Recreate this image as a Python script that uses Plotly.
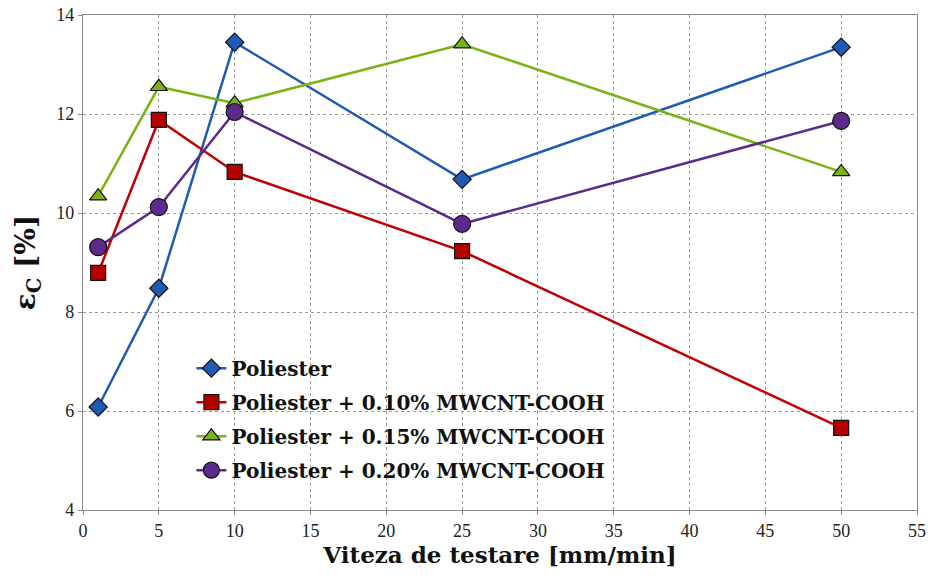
import plotly.graph_objects as go

x_vals = [1, 5, 10, 25, 50]
poliester = [6.08, 8.48, 13.45, 10.68, 13.35]
p010 = [8.79, 11.88, 10.83, 9.23, 5.66]
p015 = [10.34, 12.55, 12.22, 13.41, 10.83]
p020 = [9.31, 10.12, 12.04, 9.78, 11.86]

names = ["Poliester", "Poliester + 0.10% MWCNT-COOH",
         "Poliester + 0.15% MWCNT-COOH", "Poliester + 0.20% MWCNT-COOH"]
series = [poliester, p010, p015, p020]
line_colors = ["#1F5BB5", "#C00000", "#7AB317", "#5B2A8C"]
marker_colors = ["#1F5BB5", "#B50000", "#7AB317", "#5B2A8C"]
symbols = ["diamond", "square", "triangle-up", "circle"]
sizes = [14, 15, 15, 17]

fig = go.Figure()
for i, (n, s, lc, mc, sym, sz) in enumerate(zip(names, series, line_colors, marker_colors, symbols, sizes)):
    fig.add_trace(go.Scatter(
        x=x_vals, y=s, name=n, mode="lines+markers", legendgroup=f"g{i}",
        line=dict(color=lc, width=2.5),
        marker=dict(symbol=sym, size=sz, color=mc, line=dict(color="#111111", width=1.2)),
    ))

serif = "Liberation Serif"
bold_serif = "DejaVu Serif"
fig.update_layout(
    width=928, height=587,
    margin=dict(l=83, r=11, t=15, b=77, autoexpand=False),
    paper_bgcolor="white", plot_bgcolor="white",
    font=dict(family=serif, color="#111111"),
    legend=dict(
        x=0.13, y=0.326, xanchor="left", yanchor="top",
        font=dict(family=bold_serif, size=20, color="#111111", weight="bold"),
        bgcolor="rgba(255,255,255,0)", tracegroupgap=5, itemwidth=30,
    ),
    xaxis=dict(
        range=[0, 55], tick0=0, dtick=5, showgrid=True, automargin=False,
        ticklabeloverflow="allow",
        gridcolor="#9a9a9a", griddash="3px,3px", gridwidth=1,
        showline=True, linecolor="#8a8a8a", linewidth=1.2, mirror=True,
        ticks="outside", ticklen=4, tickcolor="#8a8a8a",
        tickfont=dict(family=serif, size=18, color="#222222"),
        title=dict(text="Viteza de testare [mm/min]",
                   font=dict(family=bold_serif, size=23, color="#111111", weight="bold"), standoff=6),
        zeroline=False,
    ),
    yaxis=dict(
        range=[4, 14], tick0=4, dtick=2, showgrid=True, automargin=False,
        ticklabeloverflow="allow",
        gridcolor="#9a9a9a", griddash="3px,3px", gridwidth=1,
        showline=True, linecolor="#8a8a8a", linewidth=1.2, mirror=True,
        ticks="outside", ticklen=4, tickcolor="#8a8a8a",
        tickfont=dict(family=serif, size=18, color="#222222"),
        title=dict(text="ε<sub>C</sub> [%]",
                   font=dict(family=bold_serif, size=28, color="#111111", weight="bold"), standoff=12),
        zeroline=False,
    ),
)

fig.write_html("out.html")
